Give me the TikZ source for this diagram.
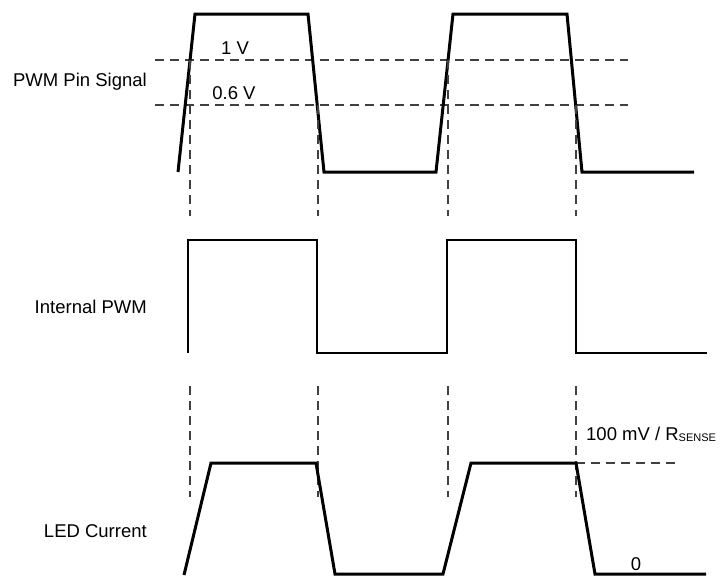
\documentclass[tikz,border=0pt]{standalone}
\usepackage{fontspec}
\setmainfont{Liberation Sans}
\begin{document}
\begin{tikzpicture}[
    x=1pt, y=-1pt,
    wave/.style={line width=3pt, line join=miter},
    guide/.style={line width=1.4pt, draw=guidegray, dash pattern=on 9pt off 6pt},
    siglabel/.style={anchor=base east, inner sep=0pt, font=\fontsize{18.5}{22}\selectfont},
    levlabel/.style={anchor=base, inner sep=0pt, font=\fontsize{18.5}{22}\selectfont}
]

% Colors
\definecolor{guidegray}{RGB}{64,64,64}

\useasboundingbox (0,0) rectangle (720,576);

% Signal names
\node[siglabel] (pin) at (147,86) {PWM Pin Signal};
\node[siglabel] (int) at (147,313) {Internal PWM};
\node[siglabel] (led) at (147,537) {LED Current};

% Threshold levels
\draw[guide] (155,60) -- (628,60);
\draw[guide] (155,105) -- (628,105);
\node[levlabel] (vhi) at (235,54) {1 V};
\node[levlabel] (vlo) at (234,99) {0.6 V};

% PWM pin signal
\draw[wave] (178,172) -- (195,14) -- (308,14) -- (324,172) -- (436,172)
    -- (453,14) -- (567,14) -- (582,172) -- (694,172);

% Switching instants
\foreach \x/\y in {190/60, 318/105, 448/60, 576/105} {
    \draw[guide] (\x,\y) -- (\x,216);
    \draw[guide] (\x,386) -- (\x,497);
}

% Internal PWM
\draw[wave, line width=2.6pt] (188,353) -- (188,240) -- (317,240) -- (317,353) -- (447,353)
    -- (447,240) -- (576,240) -- (576,353) -- (707,353);

% LED current
\draw[guide] (576,463) -- (680,463);
\draw[wave] (184,575) -- (211,463) -- (316,463) -- (335,574) -- (443,574)
    -- (471,463) -- (576,463) -- (595,574) -- (706,574);
\node[anchor=base west, inner sep=0pt, font=\fontsize{18.5}{22}\selectfont] (iset) at (586,440)
    {100 mV / R\raisebox{-1.3pt}{\fontsize{11}{11}\selectfont SENSE}};
\node[levlabel] (izero) at (636,570) {0};

\end{tikzpicture}
\end{document}
